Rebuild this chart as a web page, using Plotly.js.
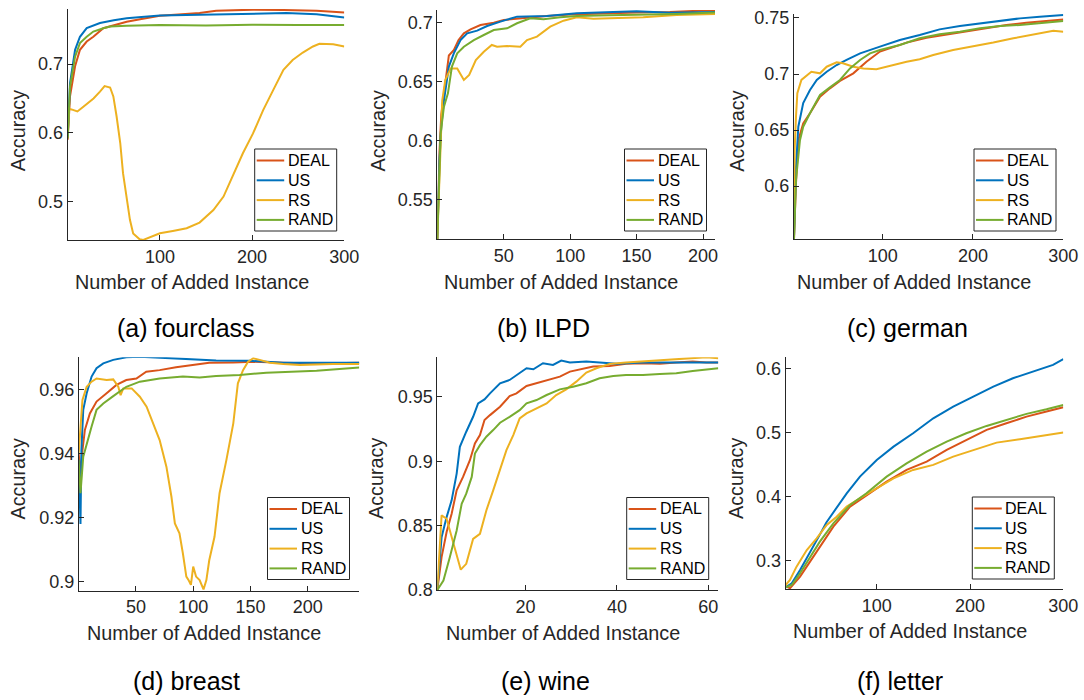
<!DOCTYPE html>
<html>
<head>
<meta charset="utf-8">
<script src="https://cdn.plot.ly/plotly-3.0.1.min.js"></script>
<style>html,body{margin:0;padding:0;background:#fff;}#chart{width:1084px;height:700px;}</style>
</head>
<body>
<div id="chart"></div>
<script>
// ---------- Data ----------
const methods = ['DEAL', 'US', 'RS', 'RAND'];
const captions = ['(a) fourclass', '(b) ILPD', '(c) german', '(d) breast', '(e) wine', '(f) letter'];
const xTitle = 'Number of Added Instance';
const yTitle = 'Accuracy';

// (a) fourclass
const aDealX = [0, 2.5, 8, 13.3, 20.6, 27.8, 38.6, 50, 64, 80, 100, 120, 143, 161, 179, 201, 234, 270, 300];
const aDealY = [0.590, 0.653, 0.697, 0.721, 0.733, 0.740, 0.7525, 0.757, 0.762, 0.766, 0.7705, 0.7725, 0.7745, 0.778, 0.779, 0.7795, 0.779, 0.778, 0.7755];
const aUsX = [0, 2.5, 8, 13.3, 20.6, 35, 50, 64, 80, 100, 143, 179, 215, 237, 270, 300];
const aUsY = [0.595, 0.672, 0.721, 0.740, 0.7525, 0.760, 0.764, 0.767, 0.769, 0.771, 0.772, 0.773, 0.7745, 0.7745, 0.773, 0.768];
const aRsX = [0, 1.5, 4, 10.5, 17, 28, 35, 40, 46, 49.5, 53, 57, 60, 64, 67.5, 71, 78, 82, 89, 100, 114, 129, 143, 158, 169, 179, 190, 201, 212, 223, 234, 244, 255, 266, 273, 288, 300];
const aRsY = [0.600, 0.635, 0.634, 0.631, 0.638, 0.650, 0.660, 0.668, 0.666, 0.653, 0.624, 0.585, 0.541, 0.502, 0.473, 0.453, 0.4445, 0.4436, 0.4474, 0.4533, 0.4567, 0.4606, 0.4689, 0.4873, 0.5068, 0.536, 0.570, 0.599, 0.633, 0.6625, 0.6917, 0.706, 0.717, 0.7258, 0.7297, 0.7292, 0.7258];
const aRandX = [0, 2.5, 8, 13.3, 20.6, 27.8, 38.6, 46, 64, 100, 150, 200, 250, 300];
const aRandY = [0.592, 0.667, 0.711, 0.7307, 0.740, 0.7476, 0.7525, 0.755, 0.756, 0.757, 0.7565, 0.7575, 0.757, 0.757];

// (b) ILPD
const bDealX = [0, 1.7, 3, 5, 7, 8.7, 12.5, 16, 20, 25, 32.5, 42.5, 50, 67.5, 82.5, 100, 125, 150, 175, 200, 209];
const bDealY = [0.517, 0.592, 0.622, 0.640, 0.6555, 0.672, 0.6766, 0.685, 0.6907, 0.694, 0.6977, 0.6997, 0.702, 0.704, 0.7053, 0.7065, 0.7076, 0.7082, 0.7087, 0.7099, 0.7104];
const bUsX = [0, 1.7, 3, 5, 8.7, 12.5, 17.5, 22.5, 30, 37.5, 47.5, 60, 82.5, 105, 132.5, 150, 175, 209];
const bUsY = [0.517, 0.585, 0.612, 0.634, 0.6626, 0.674, 0.685, 0.6907, 0.693, 0.6969, 0.7006, 0.7048, 0.7053, 0.7076, 0.7087, 0.7093, 0.708, 0.7087];
const bRsX = [0, 1.7, 3.7, 6, 10, 15, 17.5, 20, 24, 29, 35, 41, 45, 52.5, 62.5, 67.5, 75, 85, 95, 105, 117.5, 132.5, 155, 180, 209];
const bRsY = [0.517, 0.564, 0.634, 0.6513, 0.6611, 0.6611, 0.6555, 0.6513, 0.6555, 0.6682, 0.6752, 0.6809, 0.6794, 0.680, 0.6794, 0.685, 0.6879, 0.6963, 0.7014, 0.7042, 0.7031, 0.7034, 0.7042, 0.7062, 0.707];
const bRandX = [0, 2.5, 5, 8, 11, 15, 20, 27.5, 35, 42.5, 52.5, 60, 70, 80, 92.5, 105, 130, 155, 180, 209];
const bRandY = [0.517, 0.606, 0.6288, 0.640, 0.6626, 0.6738, 0.6794, 0.685, 0.6893, 0.6935, 0.6949, 0.6992, 0.7034, 0.7025, 0.7042, 0.7053, 0.7059, 0.7062, 0.707, 0.7082];

// (c) german
const cDealX = [1.8, 4, 6.6, 12, 19.5, 30.6, 41.6, 52.7, 67.5, 82, 97, 112, 126.5, 148.6, 171, 193, 215, 237, 259, 281.6, 300];
const cDealY = [0.5526, 0.6026, 0.641, 0.656, 0.665, 0.6798, 0.6872, 0.6938, 0.7006, 0.711, 0.72, 0.7244, 0.728, 0.7324, 0.7354, 0.7377, 0.7407, 0.7437, 0.7457, 0.7475, 0.7487];
const cUsX = [1.8, 4, 6.6, 12, 19.5, 27, 38, 49, 60, 75, 97, 119, 141, 163, 185.5, 207.7, 230, 252, 274, 300];
const cUsY = [0.555, 0.617, 0.653, 0.674, 0.6857, 0.6947, 0.702, 0.708, 0.7125, 0.7184, 0.7244, 0.7303, 0.7348, 0.7398, 0.7428, 0.7452, 0.7472, 0.7496, 0.7511, 0.7526];
const cRsX = [1.8, 2.5, 4, 5.5, 10, 15.8, 21, 30.6, 38, 49, 56, 67.5, 78.6, 93, 112, 126.5, 141, 156, 178, 200, 222.5, 244.7, 267, 289, 300];
const cRsY = [0.5526, 0.632, 0.662, 0.6828, 0.6947, 0.6982, 0.702, 0.7006, 0.7065, 0.7104, 0.7095, 0.7065, 0.705, 0.7042, 0.708, 0.711, 0.7131, 0.7169, 0.7214, 0.7244, 0.728, 0.7318, 0.7354, 0.7386, 0.7377];
const cRandX = [1.8, 4, 8.4, 12, 19.5, 30.6, 41.6, 52.7, 63.8, 75, 86, 97, 119, 141, 163, 185.5, 207.7, 230, 252, 274, 300];
const cRandY = [0.5526, 0.6055, 0.641, 0.653, 0.665, 0.6813, 0.6881, 0.6947, 0.705, 0.7125, 0.7184, 0.7214, 0.7258, 0.7318, 0.7354, 0.7377, 0.7407, 0.7428, 0.7437, 0.7452, 0.7472];

// (d) breast
const dDealX = [0, 1.6, 3, 5.4, 9.8, 15.6, 24.4, 33, 41.6, 50.4, 59, 70.7, 85, 99.8, 114, 135, 152.4, 178.6, 207.7, 245];
const dDealY = [0.94, 0.9338, 0.94, 0.9473, 0.9525, 0.9562, 0.9588, 0.9614, 0.9629, 0.9634, 0.9655, 0.966, 0.9669, 0.9676, 0.9683, 0.9684, 0.9686, 0.9683, 0.9681, 0.9683];
const dUsX = [0, 1.6, 2.4, 4, 7, 11.3, 15.6, 21.5, 30.2, 41.6, 53.4, 76.6, 99.8, 120, 149, 178.6, 245];
const dUsY = [0.938, 0.918, 0.941, 0.9536, 0.9588, 0.964, 0.9666, 0.9681, 0.9692, 0.97, 0.9702, 0.9697, 0.9692, 0.969, 0.9689, 0.9683, 0.9683];
const dRsX = [0, 1.6, 3.3, 7, 11.3, 15.6, 24.4, 30.2, 34.6, 36.6, 39, 46.3, 53.4, 59.3, 65, 70.7, 76.6, 81, 84, 88, 91, 94, 96, 98, 100, 102.5, 105.6, 109, 111.5, 114, 118.6, 123, 129, 135, 139, 143.5, 147.9, 152.4, 158, 167, 178.6, 193, 222, 245];
const dRsY = [0.94, 0.9494, 0.9567, 0.9608, 0.9624, 0.9634, 0.9629, 0.9631, 0.9608, 0.9582, 0.9603, 0.9603, 0.9577, 0.9546, 0.9494, 0.9442, 0.9359, 0.9265, 0.9182, 0.9151, 0.9088, 0.9016, 0.9005, 0.899, 0.9047, 0.9016, 0.9005, 0.8976, 0.9005, 0.9067, 0.914, 0.9276, 0.938, 0.9494, 0.9619, 0.966, 0.9686, 0.9697, 0.9692, 0.9683, 0.9679, 0.9676, 0.9679, 0.9679];
const dRandX = [0, 1.6, 4, 7, 11.3, 15.6, 21.5, 30.2, 41.6, 53.4, 70.7, 91, 105.7, 120, 140.5, 163.8, 187, 207.7, 222, 245];
const dRandY = [0.938, 0.9276, 0.939, 0.9432, 0.9484, 0.9536, 0.9556, 0.9579, 0.9608, 0.9624, 0.9634, 0.964, 0.9637, 0.9642, 0.9645, 0.9652, 0.9655, 0.9658, 0.9662, 0.9668];

// (e) wine
const eDealX = [0.66, 1.6, 2.7, 3.8, 4.9, 6.3, 7.8, 8.9, 10, 11, 12.2, 14.4, 16.5, 18, 20.2, 23.8, 27.5, 29.7, 31.9, 34.8, 38.4, 42, 45.7, 49.4, 53, 56.6, 59.6, 62.2];
const eDealY = [0.8, 0.8255, 0.845, 0.8592, 0.8774, 0.8878, 0.9008, 0.9138, 0.9203, 0.932, 0.9358, 0.9423, 0.9506, 0.9527, 0.9584, 0.9618, 0.9657, 0.9696, 0.9714, 0.9735, 0.974, 0.9756, 0.9761, 0.9756, 0.9766, 0.9774, 0.9766, 0.9766];
const eUsX = [0.66, 1.6, 2.7, 3.8, 4.9, 5.6, 7, 8.5, 9.6, 11, 12.2, 14.4, 16.5, 18, 20.2, 21.7, 23.8, 26, 27.8, 29.7, 33.3, 36.2, 39.9, 45.7, 53, 62.2];
const eUsY = [0.8, 0.841, 0.8566, 0.8696, 0.8904, 0.9112, 0.9229, 0.9345, 0.9449, 0.948, 0.9527, 0.9605, 0.9631, 0.967, 0.9722, 0.9714, 0.9761, 0.9748, 0.9782, 0.9766, 0.9774, 0.9766, 0.9756, 0.9766, 0.9766, 0.9766];
const eRsX = [0.66, 1.6, 2.7, 3.8, 4.9, 5.8, 7, 8.5, 10, 11.4, 12.9, 14.4, 15.8, 17.3, 18.7, 20.2, 22.4, 24.6, 26.7, 28.9, 31.1, 33.3, 35.5, 38.4, 42, 45.7, 49.4, 53, 56.6, 59.6, 62.2];
const eRsY = [0.8, 0.858, 0.8553, 0.841, 0.8255, 0.8158, 0.8203, 0.8397, 0.8436, 0.8618, 0.8774, 0.893, 0.9086, 0.9203, 0.9332, 0.9371, 0.941, 0.9449, 0.9514, 0.9558, 0.9618, 0.9688, 0.9722, 0.9756, 0.9766, 0.9774, 0.9787, 0.9792, 0.98, 0.9808, 0.98];
const eRandX = [0.66, 2, 3.4, 4.9, 6, 7, 8.2, 8.9, 10, 11.4, 12.9, 14.4, 16.5, 18.7, 20.2, 22.4, 24.6, 27.5, 30.4, 33.3, 36.2, 39.2, 42, 45.7, 49.4, 53, 56.6, 62.2];
const eRandY = [0.8, 0.8073, 0.8255, 0.8462, 0.867, 0.8748, 0.8878, 0.906, 0.9125, 0.919, 0.9242, 0.9299, 0.9345, 0.9397, 0.9449, 0.9475, 0.9514, 0.9558, 0.9579, 0.9605, 0.9644, 0.9662, 0.967, 0.967, 0.9678, 0.9683, 0.9701, 0.9722];

// (f) letter
const fDealX = [2.4, 7, 17.8, 39, 53.5, 71.4, 89, 110.6, 132, 153.5, 175, 196, 217.8, 239, 260.6, 282, 300];
const fDealY = [0.261, 0.2574, 0.2756, 0.3223, 0.3534, 0.3846, 0.4027, 0.4235, 0.4417, 0.4546, 0.4728, 0.4884, 0.504, 0.5143, 0.5247, 0.5325, 0.5392];
const fUsX = [2.4, 8.9, 17.8, 28.5, 39, 46, 53.5, 67.8, 82, 100, 118, 139, 160.6, 182, 203.5, 225, 246, 268, 289, 300];
const fUsY = [0.259, 0.2652, 0.286, 0.313, 0.341, 0.360, 0.376, 0.4053, 0.4313, 0.4572, 0.478, 0.4988, 0.5221, 0.5403, 0.5558, 0.5714, 0.5844, 0.5948, 0.6051, 0.614];
const fRsX = [2.4, 7, 14, 25, 35.6, 46.4, 57, 67.8, 82, 100, 118, 139, 160.6, 182, 203.5, 228.5, 253.5, 275, 300];
const fRsY = [0.2626, 0.2704, 0.2912, 0.3171, 0.3353, 0.356, 0.369, 0.3846, 0.3976, 0.4131, 0.4287, 0.4417, 0.4495, 0.4624, 0.4728, 0.4842, 0.4894, 0.4946, 0.4998];
const fRandX = [2.4, 8.9, 17.8, 28.5, 39, 53.5, 71.4, 89, 110.6, 132, 153.5, 175, 196, 217.8, 239, 260.6, 282, 300];
const fRandY = [0.259, 0.2626, 0.2808, 0.3067, 0.3301, 0.3586, 0.3872, 0.4053, 0.4313, 0.452, 0.4702, 0.4858, 0.4988, 0.5102, 0.5195, 0.5289, 0.5361, 0.5429];

// tick values
const aXTicks = [100, 200, 300], aYTicks = [0.5, 0.6, 0.7];
const bXTicks = [50, 100, 150, 200], bYTicks = [0.55, 0.6, 0.65, 0.7];
const cXTicks = [100, 200, 300], cYTicks = [0.6, 0.65, 0.7, 0.75];
const dXTicks = [50, 100, 150, 200], dYTicks = [0.9, 0.92, 0.94, 0.96];
const eXTicks = [20, 40, 60], eYTicks = [0.8, 0.85, 0.9, 0.95];
const fXTicks = [100, 200, 300], fYTicks = [0.3, 0.4, 0.5, 0.6];

// ---------- Build ----------
const colors = {DEAL: '#D95319', US: '#0072BD', RS: '#EDB120', RAND: '#77AC30'};
const FONT = 'Liberation Sans, Arial, Helvetica, sans-serif';
const TXT = '#262626';

const panels = [
  {series: {DEAL: [aDealX, aDealY], US: [aUsX, aUsY], RS: [aRsX, aRsY], RAND: [aRandX, aRandY]},
   xr: [0, 300], yr: [0.4435, 0.7805], xt: aXTicks, yt: aYTicks,
   dx: [67.7, 344.3], dy: [9, 240], leg: [254.7, 149], cap: [186, 328],
   xtp: [191.5, 282], ytp: [18.3, 131]},
  {series: {DEAL: [bDealX, bDealY], US: [bUsX, bUsY], RS: [bRsX, bRsY], RAND: [bRandX, bRandY]},
   xr: [0, 209], yr: [0.5168, 0.7104], xt: bXTicks, yt: bYTicks,
   dx: [437.3, 715], dy: [10, 239.3], leg: [624.5, 149], cap: [543, 328],
   xtp: [561, 282], ytp: [377.5, 131]},
  {series: {DEAL: [cDealX, cDealY], US: [cUsX, cUsY], RS: [cRsX, cRsY], RAND: [cRandX, cRandY]},
   xr: [1.8, 300], yr: [0.5526, 0.7535], xt: cXTicks, yt: cYTicks,
   dx: [794, 1063.3], dy: [14, 239.3], leg: [974, 149], cap: [907, 328],
   xtp: [914, 282], ytp: [736.7, 131]},
  {series: {DEAL: [dDealX, dDealY], US: [dUsX, dUsY], RS: [dRsX, dRsY], RAND: [dRandX, dRandY]},
   xr: [0.3, 245], yr: [0.8972, 0.970], xt: dXTicks, yt: dYTicks,
   dx: [79, 359.3], dy: [357.3, 590.7], leg: [267.5, 497.5], cap: [186, 681],
   xtp: [203.5, 633], ytp: [17.5, 479]},
  {series: {DEAL: [eDealX, eDealY], US: [eUsX, eUsY], RS: [eRsX, eRsY], RAND: [eRandX, eRandY]},
   xr: [0.66, 62.2], yr: [0.8, 0.9807], xt: eXTicks, yt: eYTicks,
   dx: [437.3, 718.3], dy: [357.3, 590], leg: [626.7, 497.5], cap: [545, 681],
   xtp: [562.5, 633], ytp: [376, 479]},
  {series: {DEAL: [fDealX, fDealY], US: [fUsX, fUsY], RS: [fRsX, fRsY], RAND: [fRandX, fRandY]},
   xr: [2.4, 300], yr: [0.2559, 0.617], xt: fXTicks, yt: fYTicks,
   dx: [785.7, 1063.3], dy: [357.3, 589.3], leg: [972.3, 497], cap: [900, 681],
   xtp: [909.5, 631], ytp: [736, 479]}
];

const W = 1084, H = 700;
const LEG_W = 82, LEG_H = 82;
const px = v => v / W, py = v => 1 - v / H;
const traces = [];
const layout = {
  width: W, height: H, margin: {l: 0, r: 0, t: 0, b: 0},
  paper_bgcolor: '#fff', plot_bgcolor: '#fff', showlegend: false,
  font: {family: FONT, color: TXT}, annotations: [], shapes: []
};

panels.forEach((p, i) => {
  const n = i + 1;
  const sx = n === 1 ? '' : String(n);
  methods.forEach(m => {
    traces.push({
      type: 'scatter', mode: 'lines', name: m, showlegend: false,
      x: p.series[m][0], y: p.series[m][1],
      xaxis: 'x' + sx, yaxis: 'y' + sx,
      line: {color: colors[m], width: 2}
    });
  });
  const axCommon = {
    showline: true, linecolor: TXT, linewidth: 1, mirror: false,
    ticks: 'inside', ticklen: 5, tickwidth: 1, tickcolor: TXT,
    showgrid: false, zeroline: false, autorange: false, fixedrange: true,
    tickfont: {family: FONT, size: 18, color: TXT}, tickmode: 'array'
  };
  layout['xaxis' + sx] = Object.assign({}, axCommon, {
    domain: [px(p.dx[0]), px(p.dx[1])], range: p.xr, tickvals: p.xt, anchor: 'y' + sx
  });
  layout['yaxis' + sx] = Object.assign({}, axCommon, {
    domain: [py(p.dy[1]), py(p.dy[0])], range: p.yr, tickvals: p.yt, anchor: 'x' + sx
  });
  // legend box (MATLAB style: tight, black border)
  const L = p.leg[0], T = p.leg[1];
  layout.shapes.push({
    type: 'rect', xref: 'paper', yref: 'paper', layer: 'above',
    x0: px(L), x1: px(L + LEG_W), y0: py(T + LEG_H), y1: py(T),
    line: {color: TXT, width: 1}, fillcolor: '#fff'
  });
  methods.forEach((m, k) => {
    const yy = T + 11.5 + 19.8 * k;
    layout.shapes.push({
      type: 'line', xref: 'paper', yref: 'paper', layer: 'above',
      x0: px(L + 2), x1: px(L + 29.5), y0: py(yy), y1: py(yy),
      line: {color: colors[m], width: 2}
    });
    layout.annotations.push({
      text: m, xref: 'paper', yref: 'paper', x: px(L + 31), y: py(yy),
      xanchor: 'left', yanchor: 'middle', showarrow: false,
      font: {family: FONT, size: 16, color: '#000'}
    });
  });
  // axis titles (placed as in the reference figure)
  layout.annotations.push({
    text: xTitle, xref: 'paper', yref: 'paper',
    x: px(p.xtp[0]), y: py(p.xtp[1]), xanchor: 'center', yanchor: 'middle',
    showarrow: false, font: {family: FONT, size: 19.8, color: TXT}
  });
  layout.annotations.push({
    text: yTitle, xref: 'paper', yref: 'paper', textangle: -90,
    x: px(p.ytp[0]), y: py(p.ytp[1]), xanchor: 'center', yanchor: 'middle',
    showarrow: false, font: {family: FONT, size: 19.8, color: TXT}
  });
  layout.annotations.push({
    text: captions[i], xref: 'paper', yref: 'paper',
    x: px(p.cap[0]), y: py(p.cap[1]), xanchor: 'center', yanchor: 'middle',
    showarrow: false, font: {family: FONT, size: 25, color: '#000'}
  });
});

Plotly.newPlot('chart', traces, layout, {displayModeBar: false, staticPlot: true});
</script>
</body>
</html>
